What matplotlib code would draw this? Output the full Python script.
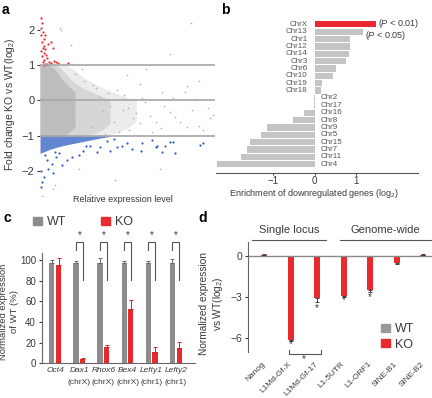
import numpy as np
import matplotlib
matplotlib.use('Agg')
import matplotlib.pyplot as plt
from matplotlib.patches import Patch

plt.rcParams['font.family'] = ['Liberation Sans', 'DejaVu Sans']
plt.rcParams['mathtext.fontset'] = 'custom'
plt.rcParams['mathtext.rm'] = 'Liberation Sans'
plt.rcParams['mathtext.it'] = 'Liberation Sans:italic'
plt.rcParams['mathtext.bf'] = 'Liberation Sans:bold'

RED = '#e8292d'
TXT = '#3a3a3a'

# ---- panel a: MA-style scatter ----
# dense cloud outlines (solid core, dense speckle, sparse speckle)
core_x = [0.0, 0.5, 0.8, 1.0, 1.2, 1.4, 1.6, 1.8, 2.0]
core_hi = [1.0, 1.0, 0.92, 0.78, 0.64, 0.52, 0.42, 0.33, 0.25]
core_lo = [-1.0, -1.0, -1.0, -1.0, -1.0, -0.98, -0.93, -0.85, -0.75]
mid_x = [0.0, 1.0, 1.3, 1.6, 2.0, 2.4, 2.8, 3.2, 3.6, 4.0]
mid_hi = [1.0, 1.0, 0.85, 0.68, 0.5, 0.37, 0.27, 0.18, 0.1, 0.03]
mid_lo = [-1.0, -1.0, -1.0, -1.0, -1.0, -1.0, -0.98, -0.92, -0.82, -0.65]
sparse_x = [0.0, 1.5, 2.0, 2.5, 3.0, 3.5, 4.0, 4.5, 5.0, 5.5]
sparse_hi = [1.0, 1.0, 0.85, 0.65, 0.5, 0.38, 0.27, 0.17, 0.08, 0.0]
sparse_lo = [-1.0, -1.0, -1.0, -1.0, -1.0, -1.0, -0.97, -0.9, -0.78, -0.6]
blue_x = [0.0, 0.3, 0.6, 1.0, 1.5, 2.0, 2.5, 3.0, 3.5, 4.0]
blue_lo = [-1.5, -1.44, -1.38, -1.32, -1.26, -1.21, -1.16, -1.11, -1.06, -1.02]

grey_pts = [(1.14, 2.07), (1.2, 2.0), (1.77, 1.56), (8.6, 2.2), (7.4, 1.33),
            (4.97, 0.71), (6.06, 0.88), (5.7, 0.48), (6.97, 0.23), (8.3, 0.23),
            (8.4, 0.4), (9.1, 0.54), (7.6, 0.06), (5.8, 0.06), (4.74, -0.28),
            (5.3, -0.51), (5.7, -0.65), (6.3, -0.43), (7.4, -0.34), (8.0, -0.62),
            (8.4, -0.76), (9.1, -0.71), (9.3, -0.85), (6.9, -0.79), (6.4, -0.9),
            (5.1, -0.85), (7.7, -0.48), (8.7, -0.28), (9.6, -0.2), (9.7, -0.51),
            (0.74, -2.5), (2.2, -1.93), (0.17, -2.75), (0.86, -2.41), (0.1, -2.7),
            (4.3, -2.27), (2.86, -2.64), (6.86, -1.93), (3.6, -0.3), (4.2, -0.6),
            (3.9, 0.2), (4.5, -0.9), (3.2, 0.35), (2.9, -0.75), (3.4, 0.1),
            (4.0, -0.15), (2.5, 0.55), (3.0, 0.45), (2.0, 0.75), (4.4, 0.3),
            (5.0, -0.2), (5.5, -0.35), (6.0, -0.05), (6.6, -0.6), (7.1, -0.15),
            (8.9, 0.05), (9.9, -0.4), (3.7, -0.95), (4.8, 0.15), (2.4, 0.9)]
red_pts = [(0.05, 2.35), (0.1, 2.2), (0.08, 2.05), (0.15, 1.95), (0.05, 1.85),
           (0.2, 1.75), (0.1, 1.65), (0.25, 1.55), (0.15, 1.5), (0.3, 1.45),
           (0.05, 1.4), (0.2, 1.35), (0.35, 1.3), (0.1, 1.25), (0.4, 1.2),
           (0.25, 1.15), (0.5, 1.1), (0.15, 1.08), (0.6, 1.05), (0.3, 1.03),
           (0.8, 1.12), (1.0, 1.05), (1.6, 1.05), (0.63, 1.65), (0.74, 1.5),
           (0.91, 1.08), (0.45, 1.6), (0.3, 1.85), (0.2, 1.02), (0.4, 1.04)]
blue_pts = [(9.14, -1.25), (7.6, -1.19), (7.14, -1.28), (6.6, -1.33), (5.8, -1.21),
            (5.25, -1.37), (4.97, -1.22), (4.4, -1.33), (4.0, -1.42), (3.43, -1.33),
            (3.24, -1.47), (2.86, -1.28), (2.48, -1.42), (2.2, -1.56), (1.8, -1.6),
            (1.52, -1.7), (1.24, -1.84), (0.93, -1.6), (0.76, -2.07), (0.48, -1.94),
            (0.2, -2.18), (0.1, -2.32), (0.38, -1.7), (0.67, -1.8), (0.86, -1.47),
            (4.7, -1.28), (5.77, -1.42), (6.7, -1.28), (6.97, -1.47), (7.4, -1.19),
            (7.7, -1.5), (9.3, -1.22), (6.4, -1.13), (0.05, -2.45), (0.05, -2.0),
            (0.3, -1.55), (1.1, -1.5), (2.6, -1.3), (3.8, -1.15), (4.2, -1.1)]

# ---- panel b ----
chroms = ['ChrX', 'Chr13', 'Chr1', 'Chr12', 'Chr14', 'Chr3', 'Chr6', 'Chr10', 'Chr19', 'Chr18',
          'Chr2', 'Chr17', 'Chr16', 'Chr8', 'Chr9', 'Chr5', 'Chr15', 'Chr7', 'Chr11', 'Chr4']
enrich = [1.46, 1.15, 0.85, 0.85, 0.83, 0.74, 0.51, 0.45, 0.18, 0.14,
          -0.01, -0.02, -0.26, -0.53, -1.15, -1.29, -1.55, -1.63, -1.78, -2.34]

# ---- panel c ----
genes_c = ['Oct4', 'Dax1', 'Rhox6', 'Bex4', 'Lefty1', 'Lefty2']
chr_c = ['', '(chrX)', '(chrX)', '(chrX)', '(chr1)', '(chr1)']
wt_c = [97, 97, 97, 97, 97, 97]
wt_c_err = [3, 2, 5.5, 2, 2, 4]
ko_c = [95, 3.9, 16, 53, 11, 15]
ko_c_err = [7.4, 1.6, 2, 8, 4.5, 6]

# ---- panel d ----
genes_d = ['Nanog', 'L1Md-Gf-X', 'L1Md-Gf-17', 'L1-5UTR', 'L1-ORF1', 'SINE-B1', 'SINE-B2']
wt_d = [0, 0, 0, 0, 0, 0, 0]
ko_d = [0.06, -6.1, -3.05, -2.9, -2.5, -0.5, 0.05]
ko_d_err = [0.05, 0.12, 0.3, 0.12, 0.15, 0.08, 0.05]
star_d = [None, -6.45, -3.8, -3.25, -3.0, None, None]

W, H = 432, 398
fig = plt.figure(figsize=(W / 100, H / 100), dpi=100)


def box(l, t, r, b):
    return [l / W, 1 - b / H, (r - l) / W, (b - t) / H]


# panel a
ax = fig.add_axes(box(40, 12, 215, 196))
ax.fill_between(sparse_x, sparse_lo, sparse_hi, color='#ececec', lw=0)
ax.fill_between(mid_x, mid_lo, mid_hi, color='#d6d6d6', lw=0)
ax.fill_between(core_x, core_lo, core_hi, color='#bdbdbd', lw=0)
ax.fill_between(blue_x, blue_lo, [-1.0] * len(blue_x), color='#6485d0', lw=0)
g = np.array(grey_pts)
ax.scatter(g[:, 0], g[:, 1], s=1.5, color='#b5b5b5', lw=0)
r = np.array(red_pts)
ax.scatter(r[:, 0], r[:, 1], s=2.5, color=RED, lw=0)
bl = np.array(blue_pts)
ax.scatter(bl[:, 0], bl[:, 1], s=2.5, color='#2f5cbf', lw=0)
for yv in (1, 0, -1):
    ax.axhline(yv, color='#a6a6a6', lw=1.2)
ax.set_xlim(0, 10)
ax.set_ylim(-2.71, 2.51)
for s in ax.spines.values():
    s.set_visible(False)
ax.set_xticks([])
ax.set_yticks([-2, -1, 0, 1, 2])
ax.tick_params(axis='y', length=2, pad=2, labelsize=8, colors=TXT)
ax.set_ylabel('Fold change KO vs WT(log$_2$)', fontsize=7.5, color=TXT)
ax.yaxis.set_label_coords(-0.13, 0.5)
fig.text(123 / W, 1 - 199 / H, 'Relative expression level', fontsize=6.5, color=TXT,
         ha='center', va='center')

# panel b
ax = fig.add_axes(box(216, 18, 418, 173))
yb = np.arange(len(chroms))[::-1]
cols = [RED] + ['#c4c4c4'] * (len(chroms) - 1)
ax.barh(yb, enrich, height=0.85, color=cols)
for yy, v, name in zip(yb, enrich, chroms):
    if v > 0:
        ax.text(-0.17, yy, name, ha='right', va='center', fontsize=5.8, color='#555555')
    else:
        ax.text(0.15, yy, name, ha='left', va='center', fontsize=5.8, color='#555555')
ax.text(1.51, yb[0] + 0.1, '($\\it{P}$ < 0.01)', fontsize=6.5, color=TXT, va='center')
ax.text(1.21, yb[1] - 0.5, '($\\it{P}$ < 0.05)', fontsize=6.5, color=TXT, va='center')
ax.set_xlim(-2.37, 2.48)
ax.set_ylim(-1.18, 19.85)
for k in ('left', 'right', 'top'):
    ax.spines[k].set_visible(False)
ax.spines['bottom'].set_color('#555555')
ax.set_yticks([])
ax.set_xticks([-1, 0, 1])
ax.tick_params(axis='x', length=1.5, pad=1, labelsize=7, colors=TXT)
fig.text(314 / W, 1 - 194 / H, 'Enrichment of downregulated genes (log$_2$)', fontsize=6.5,
         color=TXT, ha='center', va='center')

# panel c
ax = fig.add_axes(box(42.3, 253, 195, 363.3))
xc = np.arange(len(genes_c))
ax.bar(xc - 0.14, wt_c, width=0.215, color='#8c8c8c')
ax.bar(xc + 0.14, ko_c, width=0.215, color=RED)
ax.errorbar(xc - 0.14, wt_c, yerr=[np.zeros(len(xc)), wt_c_err], fmt='none',
            ecolor='#6a6a6a', elinewidth=0.7, capsize=1.2, capthick=0.7)
ax.errorbar(xc + 0.14, ko_c, yerr=[np.zeros(len(xc)), ko_c_err], fmt='none',
            ecolor='#c42a2a', elinewidth=0.7, capsize=1.2, capthick=0.7)
for i in range(1, len(genes_c)):
    ax.plot([xc[i] - 0.14, xc[i] - 0.14, xc[i] + 0.14, xc[i] + 0.14], [110, 118, 118, 81],
            color='#555555', lw=0.8, clip_on=False)
    ax.text(xc[i], 124, '*', ha='center', va='center', fontsize=7, color=TXT)
ax.set_xlim(-0.535, 5.8)
ax.set_ylim(0, 107)
for k in ('right', 'top'):
    ax.spines[k].set_visible(False)
for k in ('left', 'bottom'):
    ax.spines[k].set_color('#666666')
ax.set_yticks([0, 20, 40, 60, 80, 100])
ax.tick_params(axis='y', length=2.5, pad=2, labelsize=7, colors=TXT)
ax.set_xticks(xc)
ax.set_xticklabels(genes_c, fontstyle='italic', fontsize=6)
ax.tick_params(axis='x', length=0, pad=3, colors=TXT)
for i, c in enumerate(chr_c):
    ax.text(xc[i], -0.17, c, transform=ax.get_xaxis_transform(), ha='center', va='center',
            fontsize=6, color=TXT)
ax.set_ylabel('Normalized expression\nof WT (%)', fontsize=6.8, color=TXT)
ax.yaxis.set_label_coords(-0.155, 0.47)
ax.legend([Patch(color='#8c8c8c'), Patch(color=RED)], ['WT', 'KO'], ncol=2, frameon=False,
          loc='center left', bbox_to_anchor=(33 / W, 1 - 222 / H), bbox_transform=fig.transFigure,
          fontsize=9, handlelength=0.7, handleheight=0.6, handletextpad=0.4,
          columnspacing=2.8, borderpad=0, borderaxespad=0, labelcolor=TXT)

# panel d
ax = fig.add_axes(box(248.3, 241.7, 432, 351.7))
xd = np.arange(len(genes_d))
ax.axhline(0, color='#8a8a8a', lw=1)
ax.bar(xd, wt_d, width=0.226, color='#999999')
ax.bar(xd, ko_d, width=0.226, color=RED)
lo = [e if v < 0 else 0 for v, e in zip(ko_d, ko_d_err)]
hi = [e if v > 0 else 0 for v, e in zip(ko_d, ko_d_err)]
ax.errorbar(xd, ko_d, yerr=[lo, hi], fmt='none', ecolor='#444444', elinewidth=0.7,
            capsize=1.2, capthick=0.7)
for i, s in enumerate(star_d):
    if s is not None:
        ax.text(xd[i], s, '*', ha='center', va='center', fontsize=7, color=TXT)
ax.plot([0.92, 0.92, 2.15, 2.15], [-6.85, -7.14, -7.14, -6.85], color='#555555', lw=0.8,
        clip_on=False)
ax.text(1.51, -7.5, '*', ha='center', va='center', fontsize=7, color=TXT)
ax.plot([-0.46, 2.33], [1.14, 1.14], color='#555555', lw=0.8, clip_on=False)
ax.plot([2.85, 6.33], [1.14, 1.14], color='#555555', lw=0.8, clip_on=False)
ax.text(0.93, 1.85, 'Single locus', ha='center', va='center', fontsize=8, color=TXT)
ax.text(4.55, 1.85, 'Genome-wide', ha='center', va='center', fontsize=8, color=TXT)
ax.set_xlim(-0.6, 6.33)
ax.set_ylim(-6.97, 1.02)
for k in ('right', 'top', 'bottom'):
    ax.spines[k].set_visible(False)
ax.spines['left'].set_color('#666666')
ax.set_yticks([0, -3, -6])
ax.tick_params(axis='y', length=2.5, pad=2, labelsize=7.5, colors=TXT)
ax.set_xticks(xd)
ax.set_xticklabels(genes_d, rotation=45, ha='right', va='center', rotation_mode='anchor',
                   fontsize=6)
ax.tick_params(axis='x', length=0, pad=8, colors=TXT)
ax.set_ylabel('Normalized expression\nvs WT(log$_2$)', fontsize=7.3, color=TXT)
ax.yaxis.set_label_coords(-0.125, 0.44)
ax.legend([Patch(color='#999999'), Patch(color=RED)], ['WT', 'KO'], frameon=False,
          loc='upper left', bbox_to_anchor=(381 / W, 1 - 323 / H), bbox_transform=fig.transFigure,
          fontsize=9, handlelength=0.7, handleheight=0.6, handletextpad=0.4,
          labelspacing=0.3, borderpad=0, borderaxespad=0, labelcolor=TXT)

for lab, xp, yp in (('a', 2, 3), ('b', 221, 3), ('c', 3, 211), ('d', 198, 211)):
    fig.text(xp / W, 1 - yp / H, lab, fontsize=10, fontweight='bold', va='top', ha='left')

fig.savefig('out.png', dpi=100)
